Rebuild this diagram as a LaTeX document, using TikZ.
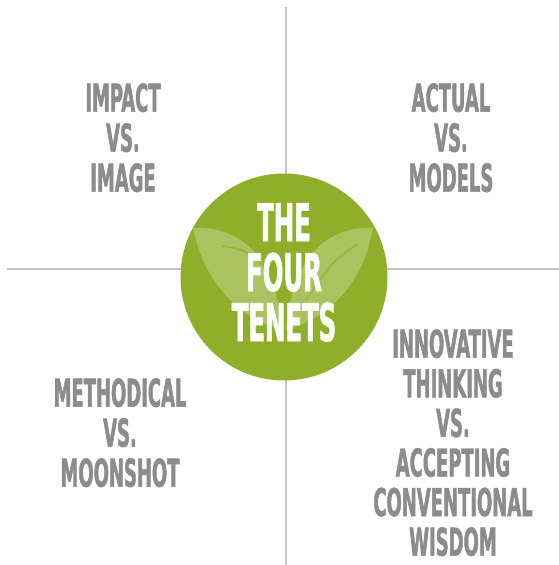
\documentclass[tikz,border=0pt]{standalone}
\usepackage{fontspec}
\usepackage{tikz}
\usetikzlibrary{positioning}

\newfontfamily\tenetfont{DejaVu Sans Condensed}[FakeStretch=0.52,FakeBold=1.2]
\definecolor{leafgreen}{RGB}{143,175,42}
\definecolor{inkgray}{RGB}{140,140,142}
\definecolor{rulegray}{RGB}{196,196,198}

\begin{document}
\begin{tikzpicture}[
      x=1pt, y=-1pt,
      rule/.style={draw=rulegray, line width=2.6pt},
      pair/.style={
          anchor=north, inner sep=0pt,
          align=center, text=inkgray,
          font={\tenetfont\bfseries\fontsize{38.4}{40}\selectfont}
        },
      hub/.style={
          circle, fill=leafgreen, inner sep=0pt,
          minimum size=207pt
        },
      leaf/.style={fill=white, fill opacity=0.25, draw=none},
      vein/.style={draw=leafgreen, line width=1.4pt, opacity=0.7},
    ]
    \useasboundingbox (0,0) rectangle (559,565);

    % axes
    \coordinate (top) at (286,7);
    \coordinate (bottom) at (286,565);
    \coordinate (left) at (7,269);
    \coordinate (right) at (559,269);
    \draw[rule] (top) -- (bottom);
    \draw[rule] (left) -- (right);

    % centre badge with the two leaves
    \node[hub] (hub) at (284,277) {};
    \begin{scope}
      \clip (hub.center) circle (103.5pt);
      \fill[leaf] (282,330) .. controls (276,258) and (242,226) .. (193,228)
                  .. controls (205,285) and (240,318) .. cycle;
      \fill[leaf] (286,330) .. controls (292,258) and (326,226) .. (373,228)
                  .. controls (363,285) and (328,318) .. cycle;
      \draw[vein] (222,246) .. controls (246,250) .. (270,272);
      \draw[vein] (357,244) .. controls (332,262) .. (306,300);
    \end{scope}
    \node[pair, text=white,
          font={\tenetfont\bfseries\fontsize{52}{50}\selectfont}]
      (tenets) at (284,203) {THE\\FOUR\\TENETS};

    % the four pairs
    \node[pair] (impact) at (123,83) {IMPACT\\VS.\\IMAGE};
    \node[pair] (actual) at (451,83) {ACTUAL\\VS.\\MODELS};
    \node[pair] (methodical) at (120,378) {METHODICAL\\VS.\\MOONSHOT};
    \node[pair, font={\tenetfont\bfseries\fontsize{38.4}{39.6}\selectfont}]
      (innovative) at (453,329)
      {INNOVATIVE\\THINKING\\VS.\\ACCEPTING\\CONVENTIONAL\\WISDOM};
  \end{tikzpicture}
\end{document}
